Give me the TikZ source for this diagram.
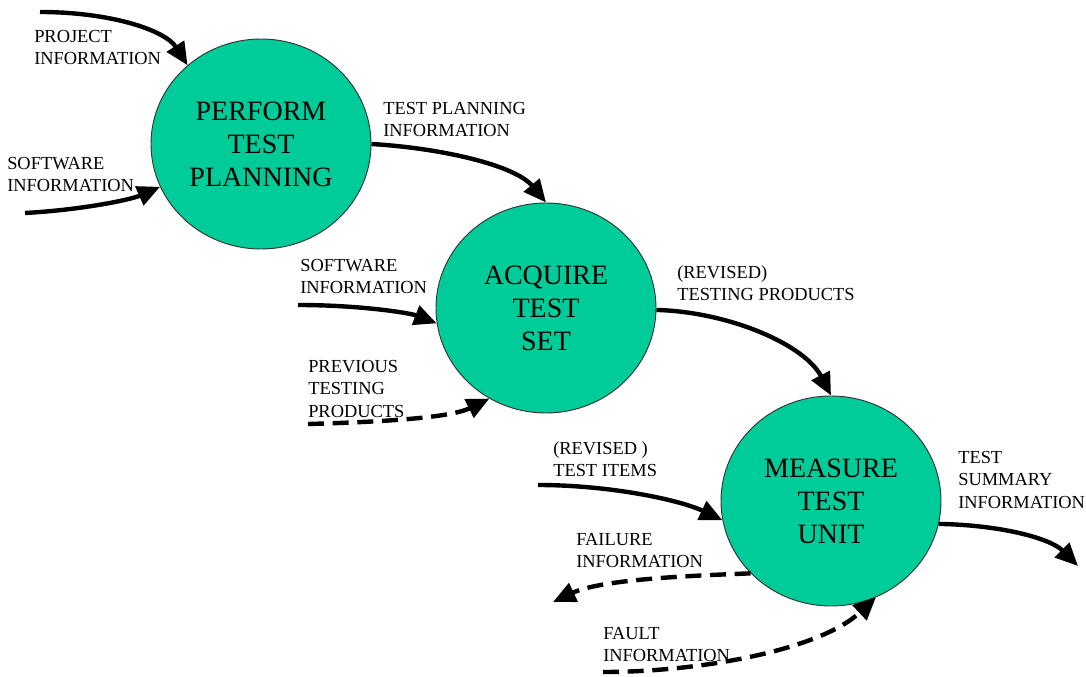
\documentclass[tikz,border=0pt]{standalone}
\usepackage{fontspec}
\setmainfont{Liberation Serif}
\usetikzlibrary{shapes.geometric,arrows.meta}
\definecolor{procfill}{RGB}{0,204,153}
\begin{document}
\begin{tikzpicture}[x=0.75pt,y=-0.75pt,
  process/.style={ellipse, draw=black!80, line width=0.7pt, fill=procfill,
    minimum width=165pt, minimum height=157.5pt, inner sep=0pt, align=center,
    font=\fontsize{21}{24.75}\selectfont},
  lbl/.style={anchor=north west, inner sep=0pt, align=left,
    font=\fontsize{13.8}{16.8}\selectfont},
  flow/.style={line width=3.3pt, -{Triangle[length=17pt,width=15pt]}},
  dflow/.style={flow, dash pattern=on 12pt off 6.5pt}]
\useasboundingbox (0,0) rectangle (1086,677);

% processes
\node[process] (pp) at (261,144) {PERFORM\\TEST\\PLANNING};
\node[process] (aq) at (546,308) {ACQUIRE\\TEST\\SET};
\node[process] (mt) at (831,501) {MEASURE\\TEST\\UNIT};

% free ends of the flows
\coordinate (projS) at (40,12);
\coordinate (swaS) at (25,213);
\coordinate (swbS) at (298,305);
\coordinate (prevS) at (308,424);
\coordinate (itemsS) at (538,485);
\coordinate (sumE) at (1078,566);
\coordinate (failE) at (553,602);
\coordinate (faultS) at (603,672);

% flows
\draw[flow] (projS) .. controls (110,12) and (165,30) .. (pp.133);
\draw[flow] (swaS) .. controls (80,210) and (130,200) .. (pp.203);
\draw[flow] (pp.0) .. controls (440,148) and (515,165) .. (aq.90);
\draw[flow] (swbS) .. controls (360,305) and (410,313) .. (aq.188);
\draw[dflow] (prevS) .. controls (380,422) and (450,418) .. (aq.238);
\draw[flow] (aq.359) .. controls (730,312) and (805,345) .. (mt.90);
\draw[flow] (itemsS) .. controls (610,485) and (680,500) .. (mt.190);
\draw[flow] (mt.348) .. controls (1000,525) and (1050,538) .. (sumE);
\draw[dflow] (mt.222) .. controls (680,576) and (600,580) .. (failE);
\draw[dflow] (faultS) .. controls (700,672) and (820,650) .. (mt.295);

% flow labels
\node[lbl] (lproj) at (34,30) {PROJECT\\INFORMATION};
\node[lbl] (lswa) at (7,157) {SOFTWARE\\INFORMATION};
\node[lbl] (ltpi) at (383,102) {TEST PLANNING\\INFORMATION};
\node[lbl] (lswb) at (300,259) {SOFTWARE\\INFORMATION};
\node[lbl] (lprev) at (308,360) {PREVIOUS\\TESTING\\PRODUCTS};
\node[lbl] (lrtp) at (677,265) {(REVISED)\\TESTING PRODUCTS};
\node[lbl] (lrti) at (553,441) {(REVISED )\\TEST ITEMS};
\node[lbl] (lsum) at (958,451) {TEST\\SUMMARY\\INFORMATION};
\node[lbl] (lfail) at (576,533) {FAILURE\\INFORMATION};
\node[lbl] (lfault) at (603,627) {FAULT\\INFORMATION};
\end{tikzpicture}
\end{document}
